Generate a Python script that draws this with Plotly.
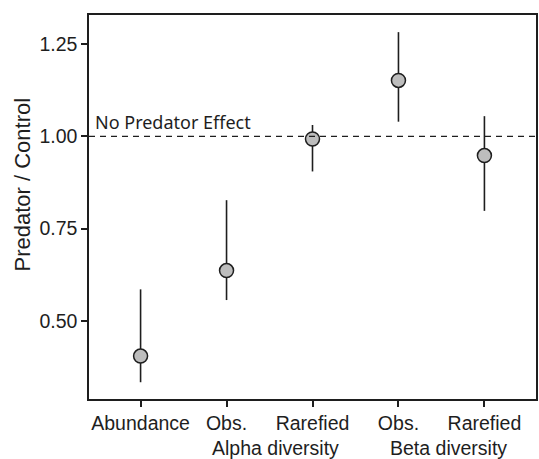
import plotly.graph_objects as go

categories = ["Abundance", "Obs.", "Rarefied", "Obs.", "Rarefied"]
positions = [1, 2, 3, 4, 5]
ratio = [0.404, 0.636, 0.993, 1.152, 0.948]
upper = [0.585, 0.827, 1.031, 1.283, 1.055]
lower = [0.333, 0.556, 0.905, 1.040, 0.798]
group_labels = ["Alpha diversity", "Beta diversity"]
group_positions = [2.575, 4.586]
y_ticks = [0.50, 0.75, 1.00, 1.25]
y_tick_text = ["0.50", "0.75", "1.00", "1.25"]
reference_level = 1.0

err_plus = [u - m for u, m in zip(upper, ratio)]
err_minus = [m - l for m, l in zip(ratio, lower)]

INK = "#1e1e1e"
FONT = "Liberation Sans, Arial, sans-serif"
TICK_SIZE = 19.5

fig = go.Figure()
fig.add_trace(go.Scatter(
    x=positions, y=ratio, mode="markers",
    marker=dict(symbol="circle", size=14, color="#bdbdbd",
                line=dict(color=INK, width=1.5)),
    error_y=dict(type="data", symmetric=False, array=err_plus,
                 arrayminus=err_minus, color=INK, thickness=1.6, width=0),
    showlegend=False, hoverinfo="skip",
))

fig.add_shape(type="line", xref="paper", x0=0, x1=1, yref="y",
              y0=reference_level, y1=reference_level,
              line=dict(color=INK, width=1.3, dash="6px,5px"))

annotations = [
    dict(text="No Predator Effect", xref="paper", x=0, xshift=4, xanchor="left",
         yref="y", y=reference_level, yanchor="bottom", yshift=0, showarrow=False,
         font=dict(family="Noto Sans, sans-serif", size=18, color=INK)),
    dict(text="Predator / Control", xref="paper", x=0, xshift=-67, xanchor="center",
         yref="paper", y=0.5586, yanchor="middle", textangle=-90, showarrow=False,
         font=dict(family=FONT, size=22, color=INK)),
]
for lbl, pos in zip(group_labels, group_positions):
    annotations.append(dict(text=lbl, xref="x", x=pos, xanchor="center",
                            yref="paper", y=0, yshift=-49, yanchor="middle",
                            showarrow=False, font=dict(family=FONT, size=TICK_SIZE, color=INK)))

fig.update_layout(
    width=539, height=459,
    margin=dict(l=89, r=1, t=15, b=60),
    paper_bgcolor="white", plot_bgcolor="white",
    font=dict(family=FONT, size=TICK_SIZE, color=INK),
    annotations=annotations,
    xaxis=dict(range=[0.4, 5.6], tickmode="array", tickvals=positions,
               ticktext=categories, showgrid=False, zeroline=False,
               showline=True, mirror=True, linecolor=INK, linewidth=1.5,
               ticks="outside", ticklen=6, tickwidth=1.5, tickcolor=INK),
    yaxis=dict(range=[0.2875, 1.3295], tickmode="array", tickvals=y_ticks,
               ticktext=y_tick_text, showgrid=False, zeroline=False,
               showline=True, mirror=True, linecolor=INK, linewidth=1.5,
               ticks="outside", ticklen=6, tickwidth=1.5, tickcolor=INK),
)

fig.write_html("out.html",
               config={"displayModeBar": False},
               post_script="document.body.style.margin='0px';"
                           "document.body.style.overflow='hidden';")
